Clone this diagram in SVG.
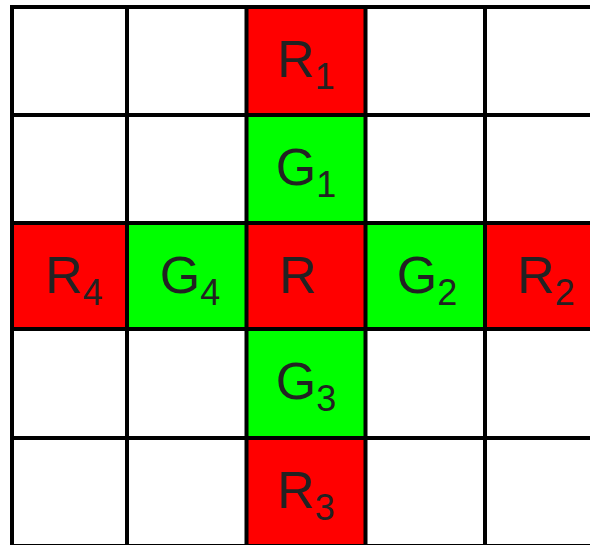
<svg xmlns="http://www.w3.org/2000/svg" width="590" height="545" viewBox="0 0 590 545">
<style>
.r{fill:#ff0000}
.g{fill:#00ff00}
.t{font-family:"Liberation Sans",Arial,sans-serif;font-size:52px;fill:#222;text-anchor:middle}
.s{font-size:36px}
.ln{stroke:#000;stroke-width:4;fill:none}
</style>
<rect width="590" height="545" fill="#fff"/>
<g id="R1"><rect class="r" x="246" y="7" width="120" height="108"/><text class="t" x="306" y="77">R<tspan class="s" dy="12">1</tspan></text></g>
<g id="G1"><rect class="g" x="246" y="115" width="120" height="108"/><text class="t" x="306" y="185">G<tspan class="s" dy="12">1</tspan></text></g>
<g id="R4"><rect class="r" x="12" y="223" width="115" height="106"/><text class="t" x="74" y="293">R<tspan class="s" dy="12">4</tspan></text></g>
<g id="G4"><rect class="g" x="127" y="223" width="120" height="106"/><text class="t" x="190" y="293">G<tspan class="s" dy="12">4</tspan></text></g>
<g id="R"><rect class="r" x="246" y="223" width="120" height="106"/><text class="t" x="298" y="293">R</text></g>
<g id="G2"><rect class="g" x="365" y="223" width="120" height="106"/><text class="t" x="427" y="293">G<tspan class="s" dy="12">2</tspan></text></g>
<g id="R2"><rect class="r" x="485" y="223" width="120" height="106"/><text class="t" x="546" y="293">R<tspan class="s" dy="12">2</tspan></text></g>
<g id="G3"><rect class="g" x="246" y="329" width="120" height="109"/><text class="t" x="306" y="399">G<tspan class="s" dy="12">3</tspan></text></g>
<g id="R3"><rect class="r" x="246" y="438" width="120" height="108"/><text class="t" x="306" y="508">R<tspan class="s" dy="12">3</tspan></text></g>
<g id="connectors" class="ln">
<path d="M12 5V560M127 5V560M246.5 5V560M365.5 5V560M485 5V560"/>
<path d="M10 7H600M10 115H600M10 223H600M10 329H600M10 438H600M10 546H600"/>
</g>
</svg>
